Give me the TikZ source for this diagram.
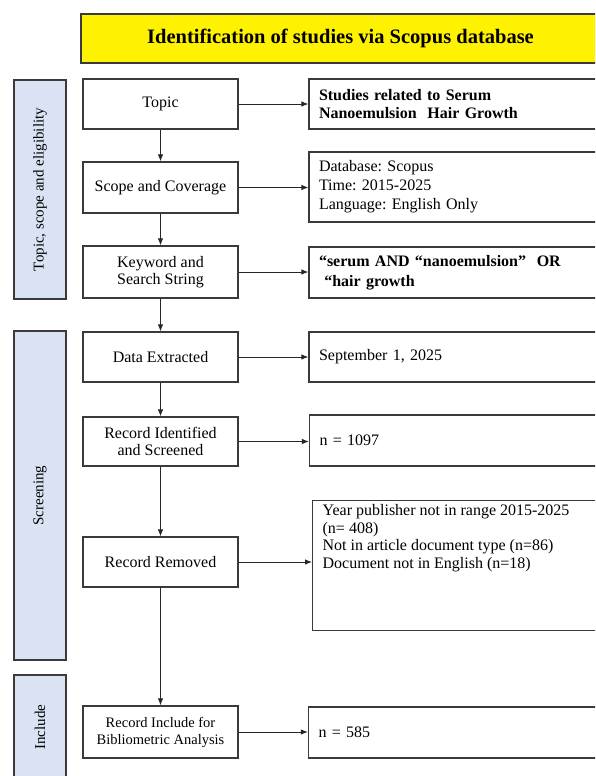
\documentclass[tikz,border=0pt]{standalone}
\usepackage{fontspec}
\setmainfont{Liberation Serif}
\usetikzlibrary{arrows.meta}
\definecolor{bandblue}{HTML}{DAE3F3}
\definecolor{edgegray}{HTML}{3A3A3A}
\frenchspacing
\begin{document}
\begin{tikzpicture}[x=1pt,y=-1pt,
  boxline/.style={draw=edgegray, line width=1.3pt},
  lbox/.style={boxline, fill=white, minimum width=155pt, inner sep=2pt, align=center,
    font=\fontsize{16}{17.5}\selectfont},
  rbox/.style={boxline, fill=white, minimum width=291pt, text width=271pt, inner xsep=10pt,
    inner ysep=2pt, align=left, font=\fontsize{16}{19}\selectfont},
  rboldbox/.style={rbox, font=\fontsize{16}{18}\selectfont\bfseries},
  band/.style={boxline, fill=bandblue, rotate=90, minimum height=52pt, inner sep=0pt,
    font=\fontsize{15}{17}\selectfont},
  arr/.style={-{Latex[length=7pt,width=5.5pt]}, line width=0.9pt, draw=black!85, fill=black!85}
]
\useasboundingbox (0,0) rectangle (595,776);
\clip (0,0) rectangle (595,776);
\fill[white] (0,0) rectangle (595,776);

% title
\node[boxline, fill=yellow, minimum width=519pt, minimum height=49pt,
  font=\fontsize{20.5}{22}\selectfont\bfseries] (title) at (340.5,38.5)
  {Identification of studies via Scopus database};

% side bands
\node[band, minimum width=219pt] (b1) at (40,189.5) {Topic, scope and eligibility};
\node[band, minimum width=329pt] (b2) at (40,495.5) {Screening};
\node[band, minimum width=120pt] (b3) at (40,735) {\hspace{16pt}Include};

% left column
\node[lbox, minimum height=50pt] (topic) at (160.5,104) {Topic};
\node[lbox, minimum height=51pt] (scope) at (160.5,187.5) {Scope and Coverage};
\node[lbox, minimum height=52pt] (kw) at (160.5,272) {Keyword and\\Search String};
\node[lbox, minimum height=50pt] (data) at (160.5,357) {Data Extracted};
\node[lbox, minimum height=49pt] (rid) at (160.5,441.5) {Record Identified\\and Screened};
\node[lbox, minimum height=50pt] (rrem) at (160.5,562) {Record Removed};
\node[lbox, minimum height=52pt, font=\fontsize{14.5}{17}\selectfont] (rinc) at (160.5,732)
  {Record Include for\\Bibliometric Analysis};

% right column
\node[rboldbox, minimum height=50pt] (r1) at (454.5,104)
  {Studies related to Serum\\Nanoemulsion\ \ Hair Growth};
\node[rbox, minimum height=70pt] (r2) at (454.5,187)
  {Database: Scopus\\Time: 2015-2025\\Language: English Only};
\node[rboldbox, minimum height=51pt, font=\fontsize{16}{19.5}\selectfont\bfseries] (r3) at (454.5,272.5)
  {“serum AND “nanoemulsion”\ \ OR\\\ “hair growth};
\node[rbox, minimum height=50pt] (r4) at (454.5,357) {September 1, 2025};
\node[rbox, minimum height=51pt] (r5) at (455,440.5) {n = 1097};
\node[boxline, fill=white, inner xsep=10pt, inner ysep=4pt,
  anchor=north west] (r6) at (312,500)
  {\parbox[c][122pt][t]{280pt}{\fontsize{16}{17.5}\selectfont
   Year publisher not in range 2015-2025\\(n= 408)\\Not in article document type (n=86)\\Document not in English (n=18)}};
\node[rbox, minimum height=51pt] (r7) at (454,732.5) {n = 585};

% vertical flow
\draw[arr] (topic) -- (scope);
\draw[arr] (scope) -- (kw);
\draw[arr] (kw) -- (data);
\draw[arr] (data) -- (rid);
\draw[arr] (rid) -- (rrem);
\draw[arr] (rrem) -- (rinc);

% horizontal arrows
\draw[arr] (topic.east) -- (topic.east -| r1.west);
\draw[arr] (scope.east) -- (scope.east -| r2.west);
\draw[arr] (kw.east) -- (kw.east -| r3.west);
\draw[arr] (data.east) -- (data.east -| r4.west);
\draw[arr] (rid.east) -- (rid.east -| r5.west);
\draw[arr] (rrem.east) -- (rrem.east -| r6.west);
\draw[arr] (rinc.east) -- (rinc.east -| r7.west);
\end{tikzpicture}
\end{document}
